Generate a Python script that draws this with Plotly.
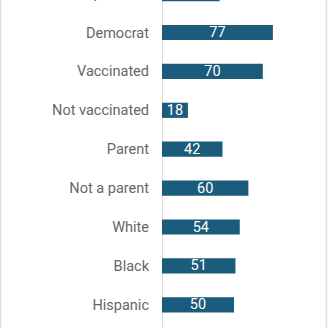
import plotly.graph_objects as go

# Share of each group (percent)
groups = ["Republican", "Democrat", "Vaccinated", "Not vaccinated", "Parent",
          "Not a parent", "White", "Black", "Hispanic"]
values = [40, 77, 70, 18, 42, 60, 54, 51, 50]

W, H = 328, 328
LEFT, RIGHT = 162, 2
PX_PER_UNIT = 1.44
ROW_PX = 38.9
FIRST_ROW_CENTER = 32.5  # pixel centre of the second row

plot_w = W - LEFT - RIGHT
x_max = plot_w / PX_PER_UNIT
y_top = 1 - FIRST_ROW_CENTER / ROW_PX
y_bottom = y_top + H / ROW_PX

BAR = "#1b5b7b"
LABEL = "#666666"
LINE = "#dddddd"

fig = go.Figure(
    go.Bar(
        x=values,
        y=list(range(len(groups))),
        orientation="h",
        marker=dict(color=BAR, line=dict(width=0)),
        width=0.39,
        text=[str(v) for v in values],
        textposition="inside",
        insidetextanchor="middle",
        textangle=0,
        constraintext="none",
        textfont=dict(family="Roboto", size=14.5, color="white"),
        hoverinfo="skip",
    )
)

fig.update_layout(
    width=W,
    height=H,
    margin=dict(l=LEFT, r=RIGHT, t=0, b=0, pad=0),
    paper_bgcolor="white",
    plot_bgcolor="white",
    showlegend=False,
    font=dict(family="Roboto", size=14.5, color=LABEL),
)

fig.update_xaxes(
    range=[0, x_max],
    showgrid=False,
    showticklabels=False,
    ticks="",
    zeroline=True,
    zerolinecolor=LINE,
    zerolinewidth=1,
    showline=False,
)

fig.update_yaxes(
    range=[y_bottom, y_top],
    tickmode="array",
    tickvals=list(range(len(groups))),
    ticktext=groups,
    ticks="",
    ticklabelstandoff=12,
    showgrid=False,
    zeroline=False,
    showline=False,
    automargin=False,
    tickfont=dict(family="Roboto", size=14.5, color=LABEL),
)

# Label of the first row, which sits partly above the visible area
def y_to_paper(v):
    return (y_bottom - v) / (y_bottom - y_top)

fig.add_annotation(
    x=0, xref="paper", xanchor="right", xshift=-12,
    y=y_to_paper(0), yref="paper", yanchor="middle",
    text=groups[0], showarrow=False,
    font=dict(family="Roboto", size=14.5, color=LABEL),
)

# Thin frame on the left and right edges of the figure
for px in (0.5, W - 1.5):
    xp = (px - LEFT) / plot_w
    fig.add_shape(type="line", xref="paper", yref="paper",
                  x0=xp, x1=xp, y0=0, y1=1,
                  line=dict(color=LINE, width=1.5))

fig.write_html("out.html")
